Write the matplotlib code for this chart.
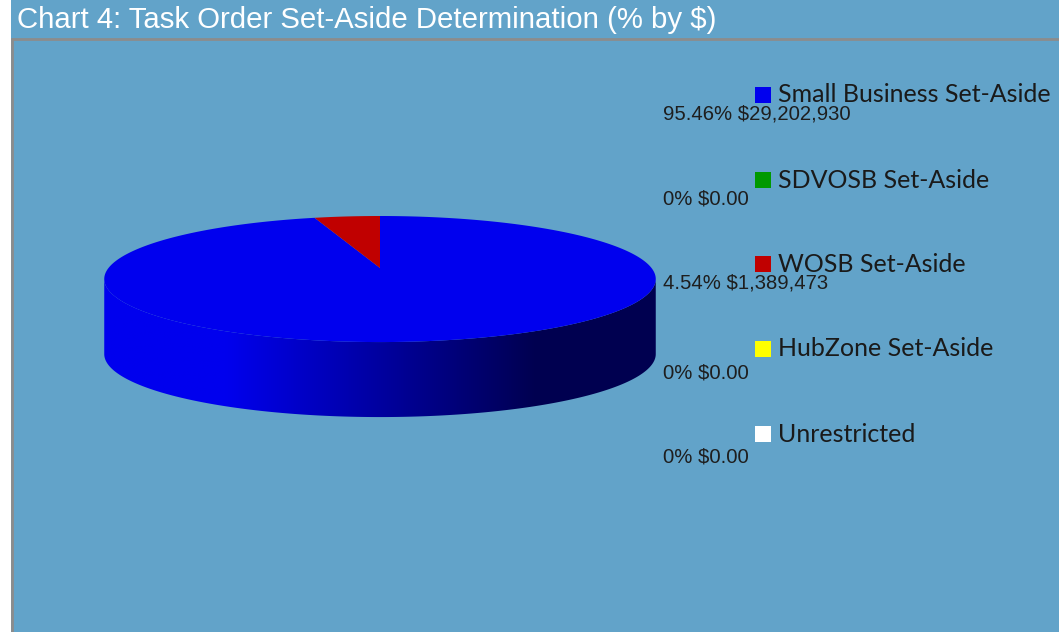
import numpy as np
import matplotlib
matplotlib.use("Agg")
import matplotlib.pyplot as plt
from matplotlib.patches import Polygon, Rectangle

# --- data ---
categories = ["Small Business Set-Aside", "SDVOSB Set-Aside", "WOSB Set-Aside",
              "HubZone Set-Aside", "Unrestricted"]
amounts = [29202930, 0, 1389473, 0, 0]
colors = ["#0000EE", "#009900", "#C00000", "#FFFF00", "#FFFFFF"]
title = "Chart 4: Task Order Set-Aside Determination (% by $)"

BG = "#62A3C9"
W, H = 1059, 632

fig = plt.figure(figsize=(W / 100, H / 100), dpi=100)
fig.patch.set_facecolor(BG)
ax = fig.add_axes([0, 0, 1, 1])
ax.set_xlim(0, W)
ax.set_ylim(H, 0)
ax.axis("off")

# white margin on the left, frame lines under the title
ax.add_patch(Rectangle((0, 0), 11, H, facecolor="white", edgecolor="none", zorder=1))
ax.plot([11, W], [38.5, 38.5], color="#8C8C8C", lw=2.0, solid_capstyle="butt", zorder=2)
ax.plot([12, 12], [38, H], color="#8C8C8C", lw=2.0, solid_capstyle="butt", zorder=2)
ax.text(17, 19.5, title, color="white", fontsize=21.2, family="Liberation Sans",
        va="center", ha="left")

# --- 3D pie with simple perspective (pixels, y down) ---
cx, cy0 = 380, 268        # projected centre of the top face
A, B, k = 271.5, 61.1, 0.175
depth = 75


def proj(phi, r=1.0, dy=0.0):
    # phi measured clockwise from 12 o'clock (far side)
    u, v = r * np.sin(phi), r * np.cos(phi)
    s = 1.0 + k * v
    return cx + A * u / s, cy0 + dy - B * v / s


total = float(sum(amounts))
fracs = [v / total for v in amounts]

sil0 = np.arccos(-k)
sil1 = 2 * np.pi - sil0
x_left, x_right = cx - A / np.sqrt(1 - k * k), cx + A / np.sqrt(1 - k * k)


def shade_at(x):
    f = (x - x_left) / (x_right - x_left)
    return np.clip(1.0 - 0.66 * (f - 0.22) / 0.56, 0.34, 1.0)


# side wall
start = 0.0
for frac, col in zip(fracs, colors):
    if frac <= 0:
        continue
    p0, p1 = start, start + frac * 2 * np.pi
    start = p1
    s0, s1 = max(p0, sil0), min(p1, sil1)
    if s1 <= s0:
        continue
    ps = np.linspace(s0, s1, 300)
    tx, ty = proj(ps)
    bx, by = proj(ps[::-1], dy=depth)
    verts = np.column_stack([np.r_[tx, bx], np.r_[ty, by]])
    poly = Polygon(verts, closed=True, facecolor="none", edgecolor="none")
    ax.add_patch(poly)
    rgb = np.array(matplotlib.colors.to_rgb(col))
    xs = np.linspace(x_left, x_right, 500)
    img = (shade_at(xs)[:, None] * rgb[None, :])[None, :, :]
    im = ax.imshow(img, extent=[x_left, x_right, cy0 + depth + 90, cy0 - 70],
                   aspect="auto", interpolation="bilinear", zorder=2)
    im.set_clip_path(poly)

# top faces
start = 0.0
for frac, col in zip(fracs, colors):
    if frac <= 0:
        continue
    p0, p1 = start, start + frac * 2 * np.pi
    start = p1
    ps = np.linspace(p0, p1, 500)
    tx, ty = proj(ps)
    verts = np.column_stack([np.r_[cx, tx], np.r_[cy0, ty]])
    ax.add_patch(Polygon(verts, closed=True, facecolor=col, edgecolor="none",
                         zorder=3))

# --- legend with data labels ---
leg_y = [95, 180, 264, 349, 434]
lab_y = [114, 199, 283, 373, 457]
for name, amt, frac, col, ly, dy in zip(categories, amounts, fracs, colors, leg_y, lab_y):
    ax.add_patch(Rectangle((755, ly - 8), 16, 16, facecolor=col,
                           edgecolor="none", zorder=4))
    ax.text(778, ly, name, fontsize=18, family="Lato", color="#1A1A1A",
            va="center", ha="left")
    if amt == 0:
        lab = "0% $0.00"
    else:
        lab = f"{frac * 100:.2f}% ${amt:,.0f}"
    ax.text(663, dy, lab, fontsize=14.6, family="Liberation Sans",
            color="#1E1E1E", va="center", ha="left")

fig.savefig("out.png", dpi=100, facecolor=BG)
